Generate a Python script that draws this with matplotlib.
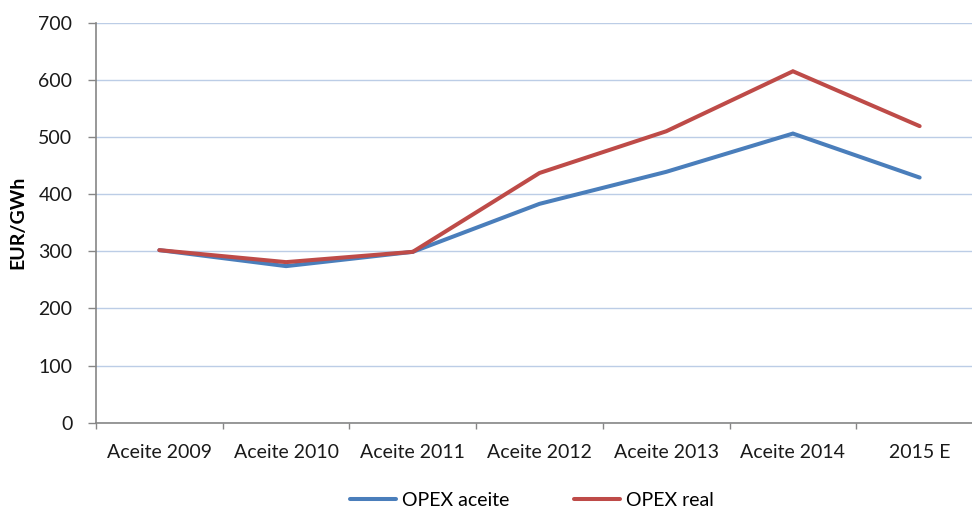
import matplotlib
matplotlib.use("Agg")
import matplotlib.pyplot as plt
import numpy as np

categories = ["Aceite 2009", "Aceite 2010", "Aceite 2011", "Aceite 2012",
              "Aceite 2013", "Aceite 2014", "2015 E"]
opex_aceite = [302, 274, 299, 383, 439, 506, 429]
opex_real = [302, 281, 299, 437, 510, 615, 519]
y_ticks = [0, 100, 200, 300, 400, 500, 600, 700]

plt.rcParams["font.family"] = ["Lato", "DejaVu Sans"]
FS = 14

W, H = 972, 509
fig = plt.figure(figsize=(W / 100, H / 100), dpi=100)
left, right, top, bottom = 96, 983, 22.7, 422.7
ax = fig.add_axes([left / W, 1 - bottom / H, (right - left) / W, (bottom - top) / H])

x = np.arange(len(categories))
blue = "#4A7EBB"
red = "#BE4B48"
ax.plot(x, opex_aceite, color=blue, lw=2.9, solid_capstyle="round",
        solid_joinstyle="miter", label="OPEX aceite", zorder=3)
ax.plot(x, opex_real, color=red, lw=2.9, solid_capstyle="round",
        solid_joinstyle="miter", label="OPEX real", zorder=4)

ax.set_xlim(-0.5, len(categories) - 0.5)
ax.set_ylim(0, 700)
ax.set_yticks(y_ticks)
ax.set_yticklabels([str(v) for v in y_ticks], fontsize=FS, color="#1a1a1a")
ax.yaxis.grid(True, color="#BCCDE6", lw=1.0)
ax.set_axisbelow(True)

ax.set_xticks(x)
ax.set_xticklabels(categories, fontsize=FS, color="#1a1a1a")
ax.set_xticks(np.arange(len(categories) + 1) - 0.5, minor=True)
ax.tick_params(axis="x", which="major", length=0, pad=15)
ax.tick_params(axis="x", which="minor", length=4, color="#868686", width=1)
ax.tick_params(axis="y", length=6, color="#868686", width=1, pad=11)

for s in ["top", "right"]:
    ax.spines[s].set_visible(False)
for s in ["left", "bottom"]:
    ax.spines[s].set_color("#868686")
    ax.spines[s].set_linewidth(1.2)

ax.set_ylabel("EUR/GWh", fontsize=FS, fontweight="bold")
ax.yaxis.set_label_coords(-70 / (right - left), 0.5)

leg = fig.legend(loc="center", bbox_to_anchor=(532 / W, 1 - 500 / H), ncol=2,
                 frameon=False, fontsize=FS, handlelength=2.4,
                 columnspacing=3.3, handletextpad=0.3)

fig.savefig("out.png", dpi=100)
